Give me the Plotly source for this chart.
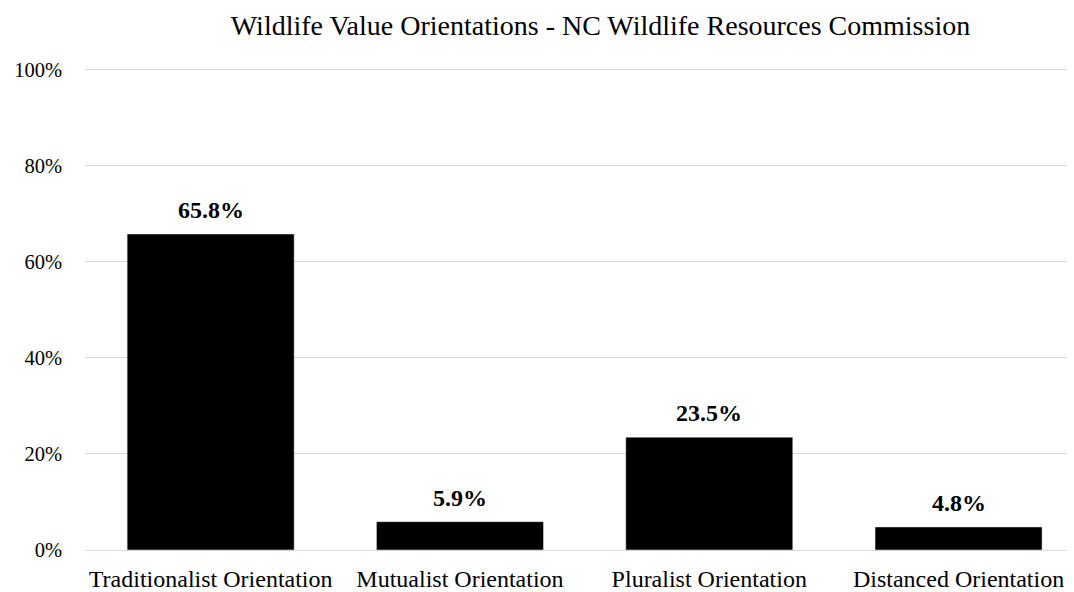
import plotly.graph_objects as go

categories = ["Traditionalist Orientation", "Mutualist Orientation", "Pluralist Orientation", "Distanced Orientation"]
values = [65.8, 5.9, 23.5, 4.8]
labels = ["65.8%", "5.9%", "23.5%", "4.8%"]
tick_vals = [0, 20, 40, 60, 80, 100]
tick_text = ["0%", "20%", "40%", "60%", "80%", "100%"]

font = "Liberation Serif, Times New Roman, serif"

W, H = 1066, 584  # page body has an 8px margin

fig = go.Figure(go.Bar(
    x=categories, y=values, marker_color="black", hoverinfo="x+y",
))
for c, v, t in zip(categories, values, labels):
    fig.add_annotation(x=c, y=v, text="<b>%s</b>" % t, showarrow=False,
                       yanchor="bottom", yshift=9,
                       font=dict(family=font, size=24, color="black"))

fig.update_layout(
    width=W, height=H,
    margin=dict(l=78, r=0, t=57, b=42, autoexpand=False),
    paper_bgcolor="white", plot_bgcolor="white",
    bargap=0.33,
    title=dict(text="Wildlife Value Orientations - NC Wildlife Resources Commission",
               x=592.5 / W, xanchor="center", xref="container", y=1 - 17 / H, yanchor="middle",
               font=dict(family=font, size=28, color="black")),
    font=dict(family=font, size=22, color="black"),
    showlegend=False,
)
fig.update_xaxes(range=[-0.5, 3.463], showline=True, linecolor="#d9d9d9", linewidth=1, ticks="",
                 automargin=False, ticklabelstandoff=7,
                 tickfont=dict(family=font, size=24, color="black"))
fig.update_yaxes(range=[0, 101], tickvals=tick_vals, ticktext=tick_text,
                 showgrid=True, gridcolor="#d9d9d9", gridwidth=1, zeroline=False,
                 automargin=False, ticklabelstandoff=23,
                 ticks="", ticklen=0, tickfont=dict(family=font, size=20.5, color="black"))
fig.write_html("out.html")
